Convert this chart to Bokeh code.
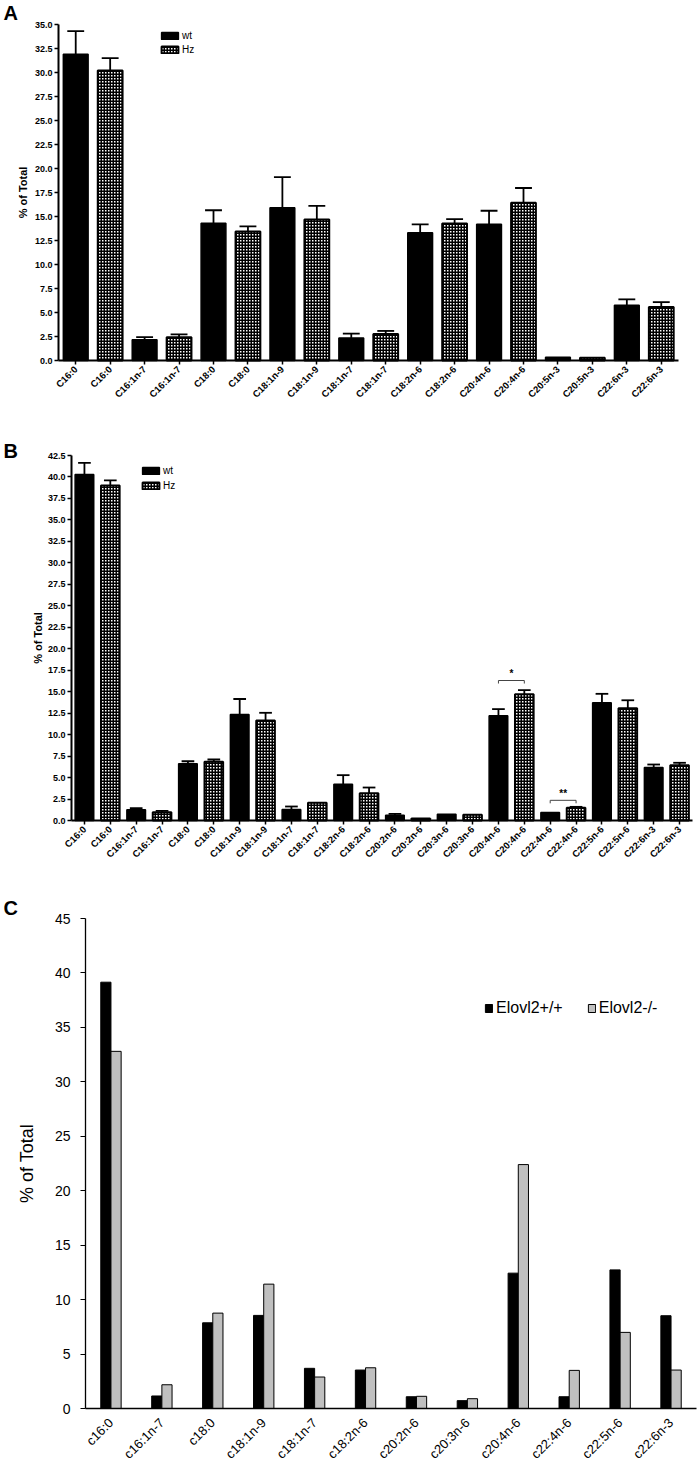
import math
from bokeh.plotting import figure
from bokeh.layouts import column
from bokeh.models import (Range1d, FixedTicker, Legend, LegendItem,
                          NumeralTickFormatter, CustomJSTickFormatter)
from bokeh.core.properties import value
from bokeh.embed import file_html
from bokeh.resources import INLINE

# ---------------- data ----------------
# Panel A
a_cats = ["C16:0", "C16:1n-7", "C18:0", "C18:1n-9", "C18:1n-7",
          "C18:2n-6", "C20:4n-6", "C20:5n-3", "C22:6n-3"]
a_wt = [31.9, 2.15, 14.3, 15.9, 2.35, 13.3, 14.2, 0.35, 5.75]
a_wt_err = [2.4, 0.28, 1.35, 3.2, 0.45, 0.87, 1.4, 0.0, 0.62]
a_hz = [30.2, 2.43, 13.45, 14.7, 2.77, 14.28, 16.42, 0.28, 5.58]
a_hz_err = [1.3, 0.3, 0.52, 1.4, 0.31, 0.45, 1.55, 0.0, 0.5]
a_yticks = [0.0, 2.5, 5.0, 7.5, 10.0, 12.5, 15.0, 17.5, 20.0, 22.5, 25.0, 27.5, 30.0, 32.5, 35.0]

# Panel B
b_cats = ["C16:0", "C16:1n-7", "C18:0", "C18:1n-9", "C18:1n-7", "C18:2n-6",
          "C20:2n-6", "C20:3n-6", "C20:4n-6", "C22:4n-6", "C22:5n-6", "C22:6n-3"]
b_wt = [40.3, 1.24, 6.6, 12.35, 1.28, 4.23, 0.62, 0.74, 12.2, 0.93, 13.7, 6.17]
b_wt_err = [1.35, 0.2, 0.3, 1.8, 0.35, 1.05, 0.15, 0.0, 0.77, 0.0, 1.05, 0.35]
b_hz = [39.0, 0.97, 6.83, 11.64, 2.06, 3.18, 0.23, 0.66, 14.7, 1.48, 13.08, 6.44]
b_hz_err = [0.6, 0.15, 0.27, 0.9, 0.0, 0.66, 0.0, 0.0, 0.48, 0.11, 0.92, 0.28]
b_yticks = [0.0, 2.5, 5.0, 7.5, 10.0, 12.5, 15.0, 17.5, 20.0, 22.5, 25.0, 27.5,
            30.0, 32.5, 35.0, 37.5, 40.0, 42.5]
b_sig_cats = ["C20:4n-6", "C22:4n-6"]
b_sig_level = [16.3, 2.35]
b_sig_text = ["*", "**"]

# Panel C
c_cats = ["c16:0", "c16:1n-7", "c18:0", "c18:1n-9", "c18:1n-7", "c18:2n-6",
          "c20:2n-6", "c20:3n-6", "c20:4n-6", "c22:4n-6", "c22:5n-6", "c22:6n-3"]
c_wt = [39.15, 1.15, 7.87, 8.55, 3.69, 3.53, 1.08, 0.72, 12.43, 1.08, 12.73, 8.52]
c_ko = [32.8, 2.18, 8.76, 11.42, 2.89, 3.74, 1.12, 0.9, 22.4, 3.5, 6.99, 3.53]
c_yticks = [0, 5, 10, 15, 20, 25, 30, 35, 40, 45]

FONT = "Liberation Sans"
W = 697


def make_fig(nx, ymax, height, axis_px, xend_px, top_px, zero_px):
    """The frame fills the whole figure; the axes sit at x=0 / y=0 inside it."""
    px_x = (xend_px - axis_px) / nx
    px_y = (zero_px - top_px) / ymax
    x0 = -axis_px / px_x
    x1 = (W - axis_px) / px_x
    y0 = -(height - zero_px) / px_y
    y1 = zero_px / px_y
    p = figure(width=W, height=height, output_backend="svg", toolbar_location=None,
               x_range=Range1d(x0, x1), y_range=Range1d(y0, y1),
               min_border_left=0, min_border_right=0,
               min_border_top=0, min_border_bottom=0)
    p.xgrid.visible = False
    p.ygrid.visible = False
    p.outline_line_color = None
    p.yaxis.fixed_location = 0
    p.xaxis.fixed_location = 0
    p.yaxis.bounds = (0, ymax)
    p.xaxis.bounds = (0, nx)
    return p, x0, y1, px_x, px_y


def add_letter(p, letter, x0, y1, px_x, px_y, dx, dy):
    p.text(x=[x0 + dx / px_x], y=[y1 - dy / px_y], text=[letter],
           text_font=value(FONT), text_font_style="bold", text_font_size="20px",
           text_baseline="top", text_align="left", text_color="black")


def style_bold_axes(p, yticks, xlabels, xtick_pos, ylabel_standoff):
    for ax in (p.xaxis[0], p.yaxis[0]):
        ax.axis_line_width = 2
        ax.axis_line_color = "black"
        ax.major_tick_line_width = 1.5
        ax.major_tick_line_color = "black"
        ax.major_tick_in = 0
        ax.major_tick_out = 4
        ax.minor_tick_line_color = None
        ax.major_label_text_font = FONT
        ax.major_label_text_font_style = "bold"
        ax.major_label_text_color = "black"
    p.yaxis.ticker = FixedTicker(ticks=yticks)
    p.yaxis.formatter = NumeralTickFormatter(format="0.0")
    p.yaxis.major_label_text_font_size = "9px"
    p.yaxis.major_label_standoff = 2
    p.yaxis.axis_label = "% of Total"
    p.yaxis.axis_label_text_font = FONT
    p.yaxis.axis_label_text_font_style = "bold"
    p.yaxis.axis_label_text_font_size = "11px"
    p.yaxis.axis_label_text_color = "black"
    p.yaxis.axis_label_standoff = ylabel_standoff
    p.xaxis.ticker = FixedTicker(ticks=xtick_pos)
    p.xaxis.formatter = CustomJSTickFormatter(
        args=dict(labels=xlabels), code="return labels[Math.floor(tick)] || '';")
    p.xaxis.major_label_orientation = math.pi / 4
    p.xaxis.major_label_text_font_size = "9.5px"
    p.xaxis.major_label_standoff = 3


def bar_pair_panel(cats, wt, wt_err, hz, hz_err, ymax, yticks, height, axis_px,
                   xend_px, top_px, zero_px, letter, letter_dy, legend_loc,
                   legend_spacing, ylabel_standoff):
    n = len(cats)
    p, x0, y1, px_x, px_y = make_fig(2 * n, ymax, height, axis_px, xend_px,
                                      top_px, zero_px)
    x_wt = [2 * i + 0.5 for i in range(n)]
    x_hz = [2 * i + 1.5 for i in range(n)]
    xlabels = []
    for c in cats:
        xlabels += [c, c]
    r_wt = p.vbar(x=x_wt, top=wt, width=0.72, bottom=0, fill_color="black",
                  line_color="black", line_width=1.5)
    r_hz = p.vbar(x=x_hz, top=hz, width=0.72, bottom=0, fill_color="white",
                  line_color="black", line_width=2, hatch_pattern="cross",
                  hatch_color="black", hatch_scale=3.0, hatch_weight=2.0)
    xs, vals, errs = [], [], []
    for xx, v, e in list(zip(x_wt, wt, wt_err)) + list(zip(x_hz, hz, hz_err)):
        if e > 0:
            xs.append(xx); vals.append(v); errs.append(v + e)
    p.segment(x0=xs, y0=vals, x1=xs, y1=errs, line_color="black", line_width=1.8)
    p.segment(x0=[x - 0.245 for x in xs], y0=errs, x1=[x + 0.245 for x in xs],
              y1=errs, line_color="black", line_width=1.8)
    style_bold_axes(p, yticks, xlabels, x_wt + x_hz, ylabel_standoff)
    legend = Legend(items=[LegendItem(label="wt", renderers=[r_wt]),
                           LegendItem(label="Hz", renderers=[r_hz])],
                    location=legend_loc, orientation="vertical",
                    glyph_width=21, glyph_height=9, label_height=9,
                    spacing=legend_spacing, padding=0, margin=0,
                    label_standoff=2, border_line_color=None,
                    background_fill_alpha=0, label_text_font=FONT,
                    label_text_font_size="10px", label_text_color="black")
    p.add_layout(legend)
    add_letter(p, letter, x0, y1, px_x, px_y, 3, letter_dy)
    return p, x_wt, x_hz


# ---------------- Panel A (page y 0..431) ----------------
pA, _, _ = bar_pair_panel(a_cats, a_wt, a_wt_err, a_hz, a_hz_err, 35.0, a_yticks,
                          431, 58, 678, 24, 360, "A", 1, (159, 376), 3, 3)

# ---------------- Panel B (page y 431..880) ----------------
pB, bx_wt, bx_hz = bar_pair_panel(b_cats, b_wt, b_wt_err, b_hz, b_hz_err, 42.5,
                                  b_yticks, 449, 71, 692, 24, 389, "B", 8,
                                  (140, 389), 4, 1)
br_xs, br_ys, st_x, st_y = [], [], [], []
for c, lvl in zip(b_sig_cats, b_sig_level):
    i = b_cats.index(c)
    xa, xb = bx_wt[i], bx_hz[i]
    br_xs.append([xa, xa, xb, xb])
    br_ys.append([lvl - 0.35, lvl, lvl, lvl - 0.35])
    st_x.append((xa + xb) / 2)
    st_y.append(lvl + 0.15)
pB.multi_line(xs=br_xs, ys=br_ys, line_color="#444444", line_width=1)
pB.text(x=st_x, y=st_y, text=b_sig_text, text_align="center",
        text_baseline="bottom", text_font=value(FONT), text_font_style="bold",
        text_font_size="10px", text_color="black")

# ---------------- Panel C (page y 880..1476) ----------------
nC = len(c_cats)
pC, cx0, cy1, cpx, cpy = make_fig(nC, 45, 596, 85, 696, 38, 528)
cx = [i + 0.5 for i in range(nC)]
r_c1 = pC.vbar(x=[x - 0.1 for x in cx], top=c_wt, width=0.2, fill_color="black",
               line_color="black", line_width=1)
r_c2 = pC.vbar(x=[x + 0.1 for x in cx], top=c_ko, width=0.2, fill_color="#c0c0c0",
               line_color="black", line_width=1)
for ax in (pC.xaxis[0], pC.yaxis[0]):
    ax.axis_line_color = "black"
    ax.axis_line_width = 1.3
    ax.major_tick_line_color = "black"
    ax.minor_tick_line_color = None
    ax.major_tick_in = 0
    ax.major_label_text_font = FONT
    ax.major_label_text_font_size = "14px"
    ax.major_label_text_color = "black"
pC.yaxis.major_tick_out = 5
pC.yaxis.ticker = FixedTicker(ticks=c_yticks)
pC.yaxis.major_label_standoff = 10
pC.yaxis.axis_label = "% of Total"
pC.yaxis.axis_label_text_font = FONT
pC.yaxis.axis_label_text_font_style = "normal"
pC.yaxis.axis_label_text_font_size = "18px"
pC.yaxis.axis_label_text_color = "black"
pC.yaxis.axis_label_standoff = 15
pC.xaxis.major_tick_out = 0
pC.xaxis.ticker = FixedTicker(ticks=cx)
pC.xaxis.formatter = CustomJSTickFormatter(
    args=dict(labels=c_cats), code="return labels[Math.floor(tick)] || '';")
pC.xaxis.major_label_orientation = math.pi / 4
pC.xaxis.major_label_text_font_size = "13px"
pC.xaxis.major_label_standoff = 12
legC = Legend(items=[LegendItem(label="Elovl2+/+", renderers=[r_c1]),
                     LegendItem(label="Elovl2-/-", renderers=[r_c2])],
              location=(484, 459), orientation="horizontal",
              glyph_width=9, glyph_height=10, spacing=24, padding=0, margin=0,
              label_standoff=3, border_line_color=None, background_fill_alpha=0,
              label_text_font=FONT, label_text_font_size="16px",
              label_text_color="black")
pC.add_layout(legC)
add_letter(pC, "C", cx0, cy1, cpx, cpy, 3, 16)

layout = column(pA, pB, pC, spacing=0)
open("out.html", "w").write(file_html(layout, INLINE))
